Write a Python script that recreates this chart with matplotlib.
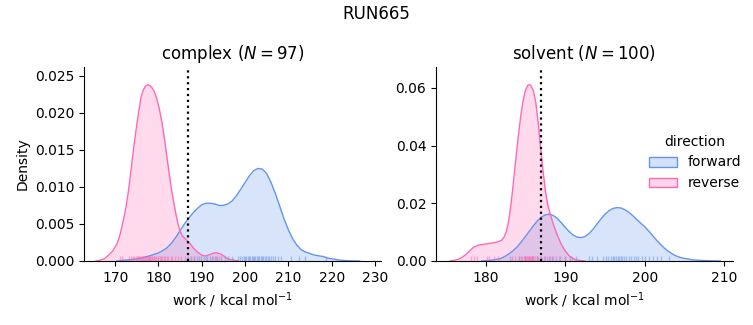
import matplotlib
matplotlib.use('Agg')
import matplotlib.pyplot as plt
import seaborn as sns
from matplotlib.patches import Patch

# density curves (x in kcal/mol, y density)
complex_fwd_x = [170.4, 172, 174, 176, 178, 179, 180, 181, 182, 183, 184, 185, 186, 187, 188, 189, 190,
                 191, 192, 193, 194, 195, 196, 197, 198, 199, 200, 201, 202, 203, 204, 205, 206, 207,
                 208, 209, 210, 211, 212, 213, 214, 215, 216, 217, 218, 219, 220, 221, 222, 224, 226.5]
complex_fwd_y = [0.0, 0.0001, 0.0002, 0.0004, 0.0007, 0.0009, 0.0011, 0.0014, 0.0018, 0.0024, 0.0032,
                 0.0041, 0.0050, 0.0058, 0.0065, 0.0071, 0.0076, 0.0078, 0.0078, 0.0077, 0.0075, 0.0075,
                 0.0077, 0.0081, 0.0088, 0.0097, 0.0106, 0.0115, 0.0122, 0.0125, 0.0124, 0.0118, 0.0106,
                 0.0091, 0.0074, 0.0057, 0.0042, 0.0030, 0.0021, 0.0015, 0.0012, 0.0010, 0.0008, 0.0007,
                 0.0006, 0.0004, 0.0003, 0.0002, 0.0001, 0.00003, 0.0]
complex_rev_x = [165.5, 166.5, 167.5, 168.5, 169.5, 170.4, 171.0, 171.5, 172.0, 172.5, 173.0, 173.5,
                 174.0, 174.5, 175.0, 175.5, 176.0, 176.5, 177.0, 177.5, 178.0, 178.5, 179.0, 179.6,
                 180.2, 180.8, 181.5, 182.0, 182.5, 183.0, 183.5, 184.0, 184.5, 185.0, 185.5, 186.0,
                 186.5, 187.0, 187.5, 188.0, 188.5, 189.0, 189.5, 190.0, 190.5, 191.0, 191.5, 192.0,
                 192.5, 193.0, 193.5, 194.0, 194.5, 195.0, 195.5, 196.0, 196.6, 197.5, 198.5]
complex_rev_y = [0.0, 0.0001, 0.0003, 0.0008, 0.0014, 0.0023, 0.0033, 0.0045, 0.0058, 0.0073, 0.0092,
                 0.0115, 0.0140, 0.0163, 0.0185, 0.0204, 0.0222, 0.0231, 0.0236, 0.0238, 0.0237, 0.0234,
                 0.0229, 0.0219, 0.0205, 0.0187, 0.0160, 0.0138, 0.0117, 0.0097, 0.0080, 0.0064, 0.0050,
                 0.0040, 0.0034, 0.0031, 0.0028, 0.0025, 0.0022, 0.0018, 0.0015, 0.0012, 0.0010, 0.0008,
                 0.0007, 0.0007, 0.0008, 0.0009, 0.0010, 0.0011, 0.0011, 0.0010, 0.0009, 0.0007, 0.0005,
                 0.0003, 0.0002, 0.0001, 0.0]
solvent_fwd_x = [179.5, 180.5, 181.5, 182.0, 182.5, 183.0, 183.5, 184.0, 184.5, 185.0, 185.5, 186.0,
                 186.5, 187.0, 187.5, 188.0, 188.5, 189.0, 189.5, 190.0, 190.5, 191.0, 191.5, 192.0,
                 192.5, 193.0, 193.5, 194.0, 194.5, 195.0, 195.5, 196.0, 196.5, 197.0, 197.5, 198.0,
                 198.5, 199.0, 199.5, 200.0, 200.5, 201.0, 201.5, 202.0, 202.5, 203.0, 203.5, 204.0,
                 204.5, 205.0, 206.0, 207.0, 208.0, 209.5]
solvent_fwd_y = [0.0, 0.0002, 0.0006, 0.0010, 0.0017, 0.0026, 0.0037, 0.0050, 0.0067, 0.0085, 0.0104,
                 0.0122, 0.0139, 0.0152, 0.0160, 0.0162, 0.0158, 0.0148, 0.0133, 0.0117, 0.0102, 0.0090,
                 0.0083, 0.0081, 0.0085, 0.0095, 0.0110, 0.0128, 0.0146, 0.0162, 0.0174, 0.0182, 0.0185,
                 0.0184, 0.0178, 0.0169, 0.0157, 0.0144, 0.0131, 0.0119, 0.0104, 0.0088, 0.0072, 0.0057,
                 0.0044, 0.0033, 0.0024, 0.0017, 0.0012, 0.0009, 0.0004, 0.0002, 0.0001, 0.0]
solvent_rev_x = [175.5, 176.0, 176.5, 177.0, 177.5, 178.0, 178.5, 179.0, 179.5, 180.0, 180.5, 181.0,
                 181.5, 182.0, 182.3, 182.6, 182.9, 183.2, 183.5, 183.8, 184.1, 184.4, 184.7, 185.0,
                 185.3, 185.5, 185.7, 186.0, 186.3, 186.6, 186.9, 187.2, 187.5, 187.8, 188.1, 188.5,
                 189.0, 189.5, 190.0, 190.5, 191.0, 191.5, 192.5]
solvent_rev_y = [0.0, 0.0002, 0.0005, 0.0012, 0.0022, 0.0036, 0.0048, 0.0054, 0.0057, 0.0059, 0.0061,
                 0.0063, 0.0066, 0.0072, 0.0082, 0.0102, 0.0140, 0.0200, 0.0275, 0.0355, 0.0432, 0.0500,
                 0.0555, 0.0592, 0.0610, 0.0612, 0.0608, 0.0590, 0.0550, 0.0480, 0.0395, 0.0315, 0.0245,
                 0.0195, 0.0165, 0.0128, 0.0090, 0.0058, 0.0035, 0.0018, 0.0008, 0.0003, 0.0]

# individual work values (rug)
complex_fwd_w = [186.9, 187.6, 188.2, 188.8, 189.3, 189.9, 190.4, 190.9, 191.3, 191.8, 192.4, 193.0,
                 193.6, 194.5, 195.3, 196.1, 197.0, 198.4, 198.9, 199.3, 199.7, 200.0, 200.3, 200.6,
                 200.9, 201.2, 201.5, 201.8, 202.1, 202.4, 202.7, 203.0, 203.3, 203.6, 203.9, 204.2,
                 204.5, 204.8, 205.2, 205.6, 206.0, 206.5, 207.0, 207.6, 208.2, 210.6, 212.4, 213.9, 218.8]
complex_rev_w = [171.0, 171.5, 173.2, 173.6, 174.0, 174.3, 174.7, 175.0, 175.2, 175.5, 175.8, 176.0,
                 176.2, 176.5, 176.7, 176.9, 177.1, 177.3, 177.5, 177.7, 177.9, 178.1, 178.3, 178.6,
                 178.8, 179.0, 179.3, 179.5, 179.8, 180.0, 180.3, 180.6, 180.9, 181.2, 181.5, 181.9,
                 182.3, 182.8, 183.2, 183.8, 184.5, 185.1, 186.2, 187.4, 188.1, 192.6, 193.3, 194.0]
solvent_fwd_w = [183.0, 184.2, 185.0, 185.8, 186.5, 187.0, 187.5, 188.0, 188.4, 188.9, 189.4, 190.0,
                 190.6, 191.3, 193.0, 193.4, 194.0, 194.7, 195.1, 195.4, 195.7, 196.0, 196.2, 196.4,
                 196.6, 196.8, 197.0, 197.2, 197.4, 197.7, 198.0, 198.3, 198.6, 198.9, 199.2, 199.6,
                 200.0, 200.5, 201.1, 201.6, 202.0, 203.0]
solvent_rev_w = [178.2, 178.5, 178.9, 180.2, 180.4, 181.0, 181.6, 183.3, 183.7, 184.2, 184.4, 184.6,
                 184.8, 184.9, 185.0, 185.1, 185.2, 185.3, 185.4, 185.5, 185.6, 185.7, 185.8, 185.9,
                 186.0, 186.2, 186.4, 186.6, 186.9, 187.3, 187.7, 188.1, 188.5, 189.2, 190.0, 190.9]

phases = ['complex', 'solvent']
n_samples = [97, 100]
free_energy = [186.8, 187.0]

fwd_color = 'cornflowerblue'
rev_color = 'hotpink'

fig = plt.figure(figsize=(7.53, 3.25), dpi=100)
ax1 = fig.add_axes([0.1116, 0.197, 0.3944, 0.597])
ax2 = fig.add_axes([0.579, 0.197, 0.3944, 0.597])

panels = [
    (ax1, complex_fwd_x, complex_fwd_y, complex_rev_x, complex_rev_y, complex_fwd_w, complex_rev_w),
    (ax2, solvent_fwd_x, solvent_fwd_y, solvent_rev_x, solvent_rev_y, solvent_fwd_w, solvent_rev_w),
]
xlims = [(162.8, 231.4), (173.75, 211.1)]
ylims = [(0, 0.0262), (0, 0.0673)]

for i, (ax, fx, fy, rx, ry, fw, rw) in enumerate(panels):
    ax.fill_between(fx, fy, color=fwd_color, alpha=0.25, lw=0)
    ax.plot(fx, fy, color=fwd_color, lw=1)
    ax.fill_between(rx, ry, color=rev_color, alpha=0.25, lw=0)
    ax.plot(rx, ry, color=rev_color, lw=1)
    sns.rugplot(x=fw, ax=ax, color=fwd_color, alpha=0.5, height=0.025, lw=1)
    sns.rugplot(x=rw, ax=ax, color=rev_color, alpha=0.5, height=0.025, lw=1)
    ax.axvline(free_energy[i], color='k', ls=':', lw=1.6)
    ax.set_xlim(*xlims[i])
    ax.set_ylim(*ylims[i])
    ax.set_title(f'{phases[i]} ($N={n_samples[i]}$)', fontsize=12)
    ax.set_xlabel('work / kcal mol$^{-1}$')
    ax.spines['top'].set_visible(False)
    ax.spines['right'].set_visible(False)

ax1.set_ylabel('Density')
ax1.set_yticks([0, 0.005, 0.01, 0.015, 0.02, 0.025])
ax2.set_yticks([0, 0.02, 0.04, 0.06])
ax1.set_xticks([170, 180, 190, 200, 210, 220, 230])
ax2.set_xticks([180, 190, 200, 210])

# legend patches: light fill, solid edge
handles = [Patch(facecolor=(0.39, 0.58, 0.93, 0.28), edgecolor=(0.39, 0.58, 0.93, 1), label='forward'),
           Patch(facecolor=(1.0, 0.41, 0.71, 0.28), edgecolor=(1.0, 0.41, 0.71, 1), label='reverse')]
fig.legend(handles=handles, title='direction', loc='center left', bbox_to_anchor=(0.845, 0.5),
           frameon=False)

fig.suptitle('RUN665', fontsize=12, y=0.985)

plt.savefig('out.png', dpi=100)
